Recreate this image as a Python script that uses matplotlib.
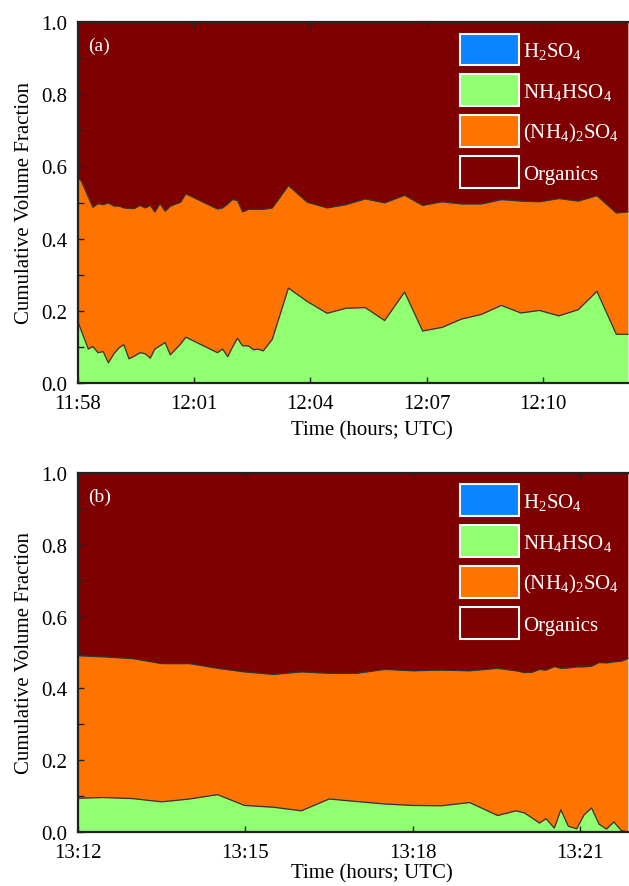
import datetime as dt
import matplotlib
matplotlib.use('Agg')
import matplotlib.pyplot as plt
import matplotlib.dates as mdates
from matplotlib.patches import Patch
from matplotlib.ticker import MultipleLocator, FormatStrFormatter

plt.rcParams['font.family'] = ['Liberation Serif', 'DejaVu Serif']
plt.rcParams['mathtext.fontset'] = 'custom'
plt.rcParams['mathtext.rm'] = 'Liberation Serif'
plt.rcParams['mathtext.it'] = 'Liberation Serif:italic'

# panel (a): seconds after 11:58:00, cumulative tops of each band
start_a = '11:58:00'
secs_a = [0, 5, 16, 23, 31, 39, 47, 56, 64, 71, 79, 87, 96, 104, 112, 119, 127,
          135, 143, 159, 167, 216, 224, 232, 239, 247, 255, 264, 272, 279, 287,
          301, 326, 355, 386, 415, 445, 475, 506, 534, 564, 594, 625, 656, 686,
          715, 745, 775, 804, 834, 852]
nh4hso4_top_a = [0.170, 0.145, 0.094, 0.101, 0.084, 0.087, 0.056, 0.082, 0.098,
                 0.106, 0.067, 0.074, 0.084, 0.081, 0.069, 0.094, 0.103, 0.112,
                 0.078, 0.108, 0.127, 0.084, 0.094, 0.073, 0.098, 0.124, 0.103,
                 0.103, 0.092, 0.094, 0.089, 0.121, 0.263, 0.226, 0.193, 0.207,
                 0.209, 0.173, 0.252, 0.144, 0.154, 0.177, 0.190, 0.215, 0.194,
                 0.201, 0.186, 0.203, 0.254, 0.135, 0.135]
as_top_a = [0.567, 0.560, 0.515, 0.487, 0.497, 0.494, 0.499, 0.490, 0.490, 0.485,
            0.484, 0.483, 0.492, 0.485, 0.492, 0.474, 0.497, 0.476, 0.490, 0.501,
            0.524, 0.482, 0.485, 0.496, 0.508, 0.506, 0.474, 0.481, 0.481, 0.481,
            0.481, 0.485, 0.547, 0.501, 0.485, 0.494, 0.510, 0.499, 0.520, 0.492,
            0.502, 0.496, 0.496, 0.508, 0.504, 0.502, 0.511, 0.504, 0.519, 0.471,
            0.474]
# the axis runs on past the cropped right edge of the figure
end_a = '12:13:11'
ticks_a = ['11:58', '12:01', '12:04', '12:07', '12:10']

# panel (b): seconds after 13:12:00
start_b = '13:12:00'
secs_b = [0, 27, 59, 90, 120, 150, 179, 210, 240, 270, 299, 330, 360, 390, 421,
          451, 471, 480, 488, 496, 503, 512, 519, 527, 536, 544, 552, 560, 568,
          576, 584, 591]
nh4hso4_top_b = [0.094, 0.096, 0.093, 0.084, 0.092, 0.104, 0.074, 0.069, 0.059,
                 0.092, 0.085, 0.078, 0.074, 0.073, 0.082, 0.046, 0.059, 0.053,
                 0.039, 0.025, 0.037, 0.011, 0.062, 0.016, 0.009, 0.048, 0.067,
                 0.022, 0.008, 0.028, 0.004, 0.000]
as_top_b = [0.491, 0.488, 0.483, 0.469, 0.469, 0.456, 0.446, 0.439, 0.446, 0.442,
            0.442, 0.453, 0.449, 0.451, 0.449, 0.456, 0.449, 0.444, 0.445, 0.453,
            0.451, 0.461, 0.456, 0.457, 0.460, 0.460, 0.462, 0.472, 0.471, 0.474,
            0.476, 0.483]
end_b = '13:22:32'
ticks_b = ['13:12', '13:15', '13:18', '13:21']

labels = [r'H$_2$SO$_4$', r'NH$_4$HSO$_4$', r'(NH$_4$)$_2$SO$_4$', 'Organics']
colors = ['#0A84FF', '#90FF70', '#FF7300', '#7F0000']


def to_time(s):
    if s.count(':') == 1:
        s += ':00'
    return dt.datetime.strptime('2000-01-01 ' + s, '%Y-%m-%d %H:%M:%S')


def to_times(start, secs):
    t0 = to_time(start)
    return [t0 + dt.timedelta(seconds=s) for s in secs]


def draw_panel(ax, times, green, orange, end, tag, ticks, xpad):
    ax.fill_between(times, 0, green, color=colors[1], lw=0)
    ax.fill_between(times, green, orange, color=colors[2], lw=0)
    ax.fill_between(times, orange, 1, color=colors[3], lw=0)
    ax.plot(times, green, color='#333333', lw=0.9)
    ax.plot(times, orange, color='#333333', lw=0.9)

    ax.set_xlim(times[0], to_time(end))
    ax.set_ylim(0, 1)
    ax.set_xticks([to_time(t) for t in ticks])
    ax.xaxis.set_major_formatter(mdates.DateFormatter('%H:%M'))
    ax.yaxis.set_major_locator(MultipleLocator(0.2))
    ax.yaxis.set_minor_locator(MultipleLocator(0.1))
    ax.yaxis.set_major_formatter(FormatStrFormatter('%.1f'))
    ax.tick_params(which='both', direction='in', top=True, right=True,
                   length=4.5, width=1, labelsize=15, color='#222222')
    ax.tick_params(axis='y', pad=8)
    ax.tick_params(axis='x', pad=8)
    for sp in ax.spines.values():
        sp.set_linewidth(1.6)
        sp.set_color('#222222')

    ax.set_xlabel('Time (hours; UTC)', fontsize=15, labelpad=xpad)
    ax.set_ylabel('Cumulative Volume Fraction', fontsize=15, labelpad=5)
    ax.text(0.017, 0.935, tag, transform=ax.transAxes, color='white',
            fontsize=14, va='center', ha='left')

    handles = [Patch(facecolor=c, edgecolor='white', lw=1.5) for c in colors]
    leg = ax.legend(handles, labels, loc='upper left', frameon=False,
                    fontsize=15, handlelength=2.8, handleheight=1.95,
                    labelspacing=0.45, handletextpad=0.2, borderpad=0,
                    borderaxespad=0, bbox_to_anchor=(0.650, 0.968))
    for txt in leg.get_texts():
        txt.set_color('white')


fig = plt.figure(figsize=(6.29, 8.87), dpi=100)
ax1 = fig.add_axes([78 / 629, 1 - 384 / 887, 588 / 629, 361 / 887])
ax2 = fig.add_axes([78 / 629, 1 - 833 / 887, 588 / 629, 359 / 887])

draw_panel(ax1, to_times(start_a, secs_a), nh4hso4_top_a, as_top_a, end_a,
           '(a)', ticks_a, 5)
draw_panel(ax2, to_times(start_b, secs_b), nh4hso4_top_b, as_top_b, end_b,
           '(b)', ticks_b, 0.5)

fig.savefig('out.png', dpi=100)
